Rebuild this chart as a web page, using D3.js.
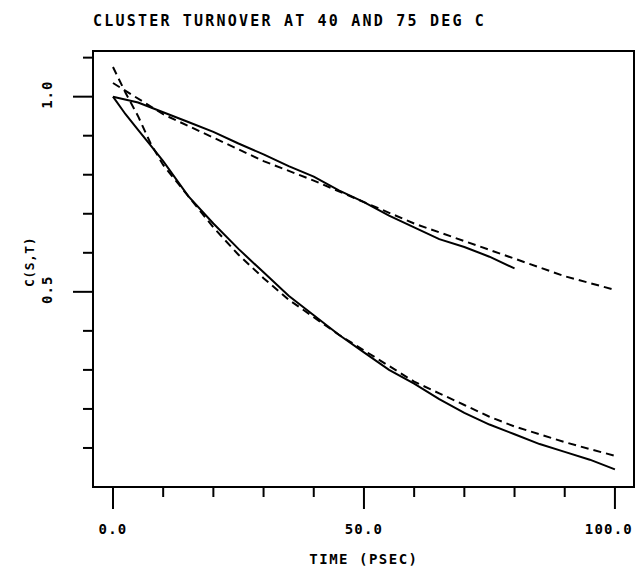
<!DOCTYPE html>
<html>
<head>
<meta charset="utf-8">
<script src="https://cdn.jsdelivr.net/npm/d3@7"></script>
<style>
  html, body { margin: 0; padding: 0; background: #fff; }
  svg text { font-family: "DejaVu Sans Mono", monospace; fill: #000; font-weight: bold; }
</style>
</head>
<body>
<svg id="chart" width="635" height="566"></svg>
<script>
// Correlation function C(S,T) vs time (psec), simulation (solid) and fit (dashed)
const title = "CLUSTER TURNOVER AT 40 AND 75 DEG C";
const xTitle = "TIME (PSEC)";
const yTitle = "C(S,T)";

const xMajorTicks = [0, 50, 100];
const xMinorTicks = [10, 20, 30, 40, 60, 70, 80, 90];
const xTickLabels = ["0.0", "50.0", "100.0"];
const yMajorTicks = [0.5, 1.0];
const yMinorTicks = [0.1, 0.2, 0.3, 0.4, 0.6, 0.7, 0.8, 0.9, 1.1];
const yTickLabels = ["0.5", "1.0"];

// 40 deg C: slow decay
const slowSimT = [0, 5, 10, 15, 20, 25, 30, 35, 40, 45, 50, 55, 60, 65, 70, 75, 80];
const slowSimC = [1.0, 0.985, 0.96, 0.935, 0.91, 0.88, 0.852, 0.822, 0.795, 0.76, 0.73, 0.695, 0.665, 0.635, 0.615, 0.59, 0.56];
const slowFitT = [0, 10, 20, 30, 40, 50, 60, 70, 80, 90, 100];
const slowFitC = [1.035, 0.955, 0.895, 0.835, 0.785, 0.73, 0.675, 0.63, 0.585, 0.54, 0.505];

// 75 deg C: fast decay
const fastSimT = [0, 2.5, 5, 7.5, 10, 15, 20, 25, 30, 35, 40, 45, 50, 55, 60, 65, 70, 75, 80, 85, 90, 95, 100];
const fastSimC = [1.0, 0.955, 0.915, 0.875, 0.835, 0.745, 0.675, 0.61, 0.55, 0.49, 0.44, 0.39, 0.345, 0.3, 0.265, 0.225, 0.19, 0.16, 0.135, 0.11, 0.09, 0.07, 0.045];
const fastFitT = [0, 2.5, 5, 7.5, 10, 15, 20, 25, 30, 35, 40, 45, 50, 55, 60, 65, 70, 75, 80, 85, 90, 95, 100];
const fastFitC = [1.076, 1.01, 0.95, 0.88, 0.825, 0.745, 0.665, 0.595, 0.535, 0.48, 0.435, 0.39, 0.35, 0.31, 0.27, 0.24, 0.21, 0.18, 0.155, 0.135, 0.115, 0.097, 0.08];

const svg = d3.select("#chart");
const plot = { left: 93, right: 634, top: 51, bottom: 487 };

const x = d3.scaleLinear().domain([-3.98, 103.8]).range([plot.left, plot.right]);
const y = d3.scaleLinear().domain([0, 1.117]).range([plot.bottom, plot.top]);

// title
svg.append("text")
  .attr("x", plot.left).attr("y", 26)
  .attr("font-size", 15).attr("letter-spacing", 2.2)
  .text(title);

// frame
svg.append("rect")
  .attr("x", plot.left).attr("y", plot.top)
  .attr("width", plot.right - plot.left).attr("height", plot.bottom - plot.top)
  .attr("fill", "none").attr("stroke", "#000").attr("stroke-width", 2);

// x ticks (outward, below the frame)
const gx = svg.append("g").attr("stroke", "#000").attr("stroke-width", 2);
gx.selectAll("line.minor").data(xMinorTicks).join("line")
  .attr("x1", d => x(d)).attr("x2", d => x(d))
  .attr("y1", plot.bottom).attr("y2", plot.bottom + 10);
gx.selectAll("line.major").data(xMajorTicks).join("line")
  .attr("x1", d => x(d)).attr("x2", d => x(d))
  .attr("y1", plot.bottom).attr("y2", plot.bottom + 22);
svg.selectAll("text.xl").data(xMajorTicks).join("text")
  .attr("class", "xl")
  .attr("y", 534)
  .attr("text-anchor", "middle")
  .attr("font-size", 14).attr("letter-spacing", 1.2)
  .text((d, i) => xTickLabels[i])
  .attr("x", function (d) {
    // keep the last label inside the page
    const w = this.getComputedTextLength();
    return Math.min(x(d), 633 - w / 2);
  });
svg.append("text")
  .attr("x", x(50)).attr("y", 564)
  .attr("text-anchor", "middle")
  .attr("font-size", 14).attr("letter-spacing", 1.5)
  .text(xTitle);

// y ticks (outward, left of the frame)
const gy = svg.append("g").attr("stroke", "#000").attr("stroke-width", 2);
gy.selectAll("line.minor").data(yMinorTicks).join("line")
  .attr("y1", d => y(d)).attr("y2", d => y(d))
  .attr("x1", plot.left).attr("x2", plot.left - 10);
gy.selectAll("line.major").data(yMajorTicks).join("line")
  .attr("y1", d => y(d)).attr("y2", d => y(d))
  .attr("x1", plot.left).attr("x2", plot.left - 20);
svg.selectAll("text.yl").data(yMajorTicks).join("text")
  .attr("class", "yl")
  .attr("transform", d => `translate(52,${y(d) - 2}) rotate(-90)`)
  .attr("text-anchor", "middle")
  .attr("font-size", 14).attr("letter-spacing", 1)
  .text((d, i) => yTickLabels[i]);
svg.append("text")
  .attr("transform", `translate(34,262) rotate(-90)`)
  .attr("text-anchor", "middle")
  .attr("font-size", 13).attr("letter-spacing", 0.5)
  .text(yTitle);

// curves
const line = d3.line().x(d => x(d[0])).y(d => y(d[1]));
const series = [
  { t: slowSimT, c: slowSimC, dash: null },
  { t: slowFitT, c: slowFitC, dash: "8,5" },
  { t: fastSimT, c: fastSimC, dash: null },
  { t: fastFitT, c: fastFitC, dash: "8,5" }
];
svg.append("g").selectAll("path").data(series).join("path")
  .attr("d", s => line(d3.zip(s.t, s.c)))
  .attr("fill", "none").attr("stroke", "#000").attr("stroke-width", 2)
  .attr("stroke-dasharray", s => s.dash);
</script>
</body>
</html>
